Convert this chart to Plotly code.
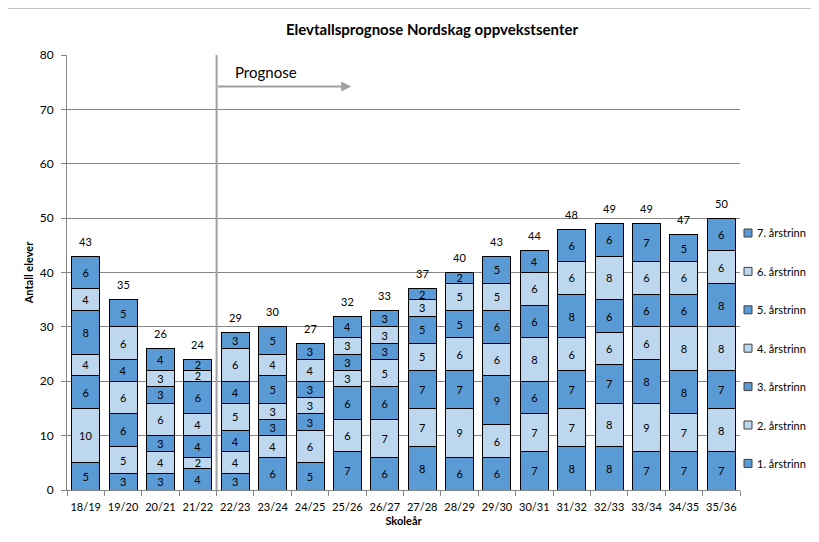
import plotly.graph_objects as go

categories = ["18/19", "19/20", "20/21", "21/22", "22/23", "23/24", "24/25", "25/26", "26/27",
              "27/28", "28/29", "29/30", "30/31", "31/32", "32/33", "33/34", "34/35", "35/36"]

trinn1 = [5, 3, 3, 4, 3, 6, 5, 7, 6, 8, 6, 6, 7, 8, 8, 7, 7, 7]
trinn2 = [10, 5, 4, 2, 4, 4, 6, 6, 7, 7, 9, 6, 7, 7, 8, 9, 7, 8]
trinn3 = [6, 6, 3, 4, 4, 3, 3, 6, 6, 7, 7, 9, 6, 7, 7, 8, 8, 7]
trinn4 = [4, 6, 6, 4, 5, 3, 3, 3, 5, 5, 6, 6, 8, 6, 6, 6, 8, 8]
trinn5 = [8, 4, 3, 6, 4, 5, 3, 3, 3, 5, 5, 6, 6, 8, 6, 6, 6, 8]
trinn6 = [4, 6, 3, 2, 6, 4, 4, 3, 3, 3, 5, 5, 6, 6, 8, 6, 6, 6]
trinn7 = [6, 5, 4, 2, 3, 5, 3, 4, 3, 2, 2, 5, 4, 6, 6, 7, 5, 6]

series_names = ["1. årstrinn", "2. årstrinn", "3. årstrinn", "4. årstrinn",
                "5. årstrinn", "6. årstrinn", "7. årstrinn"]
series_values = [trinn1, trinn2, trinn3, trinn4, trinn5, trinn6, trinn7]
totals = [sum(v) for v in zip(*series_values)]

DARK = "#5B9BD5"
LIGHT = "#BDD7EE"
FONT = "Lato"

# page is rendered with an 8px body margin; plot area spans page px 67..740 x 55..490
PX0, PX1, PY0, PY1 = 67, 740, 55, 490
def px_to_paper_x(px):
    return (px - PX0) / (PX1 - PX0)
def py_to_paper_y(py):
    return (PY1 - py) / (PY1 - PY0)

fig = go.Figure()
colors = []
for i, (name, vals) in enumerate(zip(series_names, series_values)):
    col = DARK if i % 2 == 0 else LIGHT
    colors.append(col)
    fig.add_trace(go.Bar(
        x=categories, y=vals, name=name, showlegend=False,
        marker=dict(color=col, line=dict(color="#000000", width=1)),
        text=[str(v) for v in vals], textposition="inside", insidetextanchor="middle",
        textangle=0, textfont=dict(family=FONT, size=11, color="#000000"),
        hoverinfo="skip",
    ))

for c, t in zip(categories, totals):
    fig.add_annotation(x=c, y=t, text=str(t), showarrow=False, yshift=15,
                       font=dict(family=FONT, size=11, color="#000000"))

# Prognose divider and arrow
fig.add_shape(type="line", xref="x", yref="y", x0=3.5, x1=3.5, y0=0, y1=80,
              line=dict(color="#A0A0A0", width=2))
fig.add_annotation(x=7.1, y=74.2, ax=3.5, ay=74.2, xref="x", yref="y", axref="x", ayref="y",
                   text="", showarrow=True, arrowhead=2, arrowsize=1, arrowwidth=2,
                   arrowcolor="#A0A0A0")
fig.add_annotation(x=3.93, y=76.9, xref="x", yref="y", text="Prognose", showarrow=False,
                   xanchor="left", yanchor="middle",
                   font=dict(family=FONT, size=15, color="#000000"))

# manual legend (7. årstrinn on top)
legend_top, legend_step = 233, 38.4
for k, idx in enumerate(range(len(series_names) - 1, -1, -1)):
    cy = legend_top + k * legend_step
    fig.add_shape(type="rect", xref="paper", yref="paper",
                  x0=px_to_paper_x(744), x1=px_to_paper_x(752),
                  y0=py_to_paper_y(cy + 4), y1=py_to_paper_y(cy - 4),
                  fillcolor=colors[idx], line=dict(color="#404040", width=1))
    fig.add_annotation(xref="paper", yref="paper", x=px_to_paper_x(755), y=py_to_paper_y(cy),
                       text=series_names[idx], showarrow=False, xanchor="left", yanchor="middle",
                       font=dict(family=FONT, size=11, color="#000000"))

# outer chart border
fig.add_shape(type="rect", xref="paper", yref="paper",
              x0=px_to_paper_x(7), x1=px_to_paper_x(815),
              y0=py_to_paper_y(550), y1=py_to_paper_y(8),
              line=dict(color="#898989", width=1), layer="below")

W, H = 811, 534
fig.update_layout(
    width=W, height=H,
    margin=dict(l=PX0 - 8, r=W - (PX1 - 8), t=PY0 - 8, b=H - (PY1 - 8), autoexpand=False),
    paper_bgcolor="white", plot_bgcolor="white",
    barmode="stack", bargap=0.25,
    title=dict(text="<b>Elevtallsprognose Nordskag oppvekstsenter</b>", x=(432 - 8) / W,
               xanchor="center", y=1 - (30 - 8) / H, yanchor="middle",
               font=dict(family=FONT, size=15, color="#000000")),
    font=dict(family=FONT, size=11, color="#000000"),
    uniformtext=dict(minsize=11, mode="show"),
    xaxis=dict(showline=True, linecolor="#868686", ticks="outside", tickson="boundaries",
               ticklen=5, tickcolor="#868686", tickfont=dict(family=FONT, size=11),
               tickangle=0, automargin=False, ticklabelstandoff=7,
               title=dict(text="<b>Skoleår</b>", font=dict(family=FONT, size=11), standoff=5)),
    yaxis=dict(range=[0, 80], dtick=10, showline=True, linecolor="#868686", gridcolor="#868686",
               ticks="outside", ticklen=5, tickcolor="#868686", tickfont=dict(family=FONT, size=12),
               zeroline=False, automargin=False, ticklabelstandoff=5,
               title=dict(text="<b>Antall elever</b>", font=dict(family=FONT, size=11), standoff=3)),
    showlegend=False,
)

fig.write_html("out.html")
